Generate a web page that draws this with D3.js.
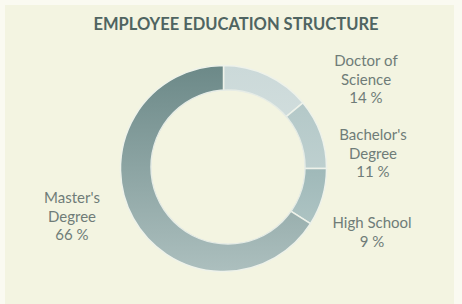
<!DOCTYPE html>
<html>
<head>
<meta charset="utf-8">
<script src="https://cdn.jsdelivr.net/npm/d3@7"></script>
<style>
  body { margin: 0; background: #fafaf1; }
  svg { display: block; }
  text { font-family: "Lato", "Open Sans", sans-serif; }
</style>
</head>
<body>
<svg width="462" height="304"></svg>
<script>
const svg = d3.select("svg"),
      width = +svg.attr("width"),
      height = +svg.attr("height");

// data, clockwise from 12 o'clock
const categories = ["Doctor of Science", "Bachelor's Degree", "High School", "Master's Degree"];
const shares = [14, 11, 9, 66];
const labelLines = [["Doctor of", "Science"], ["Bachelor's", "Degree"], ["High School"], ["Master's", "Degree"]];

// slice gradients (top colour, bottom colour)
const sliceColors = [
  ["#cbd9d9", "#dfe8e6"],
  ["#aec4c4", "#cddbda"],
  ["#86a6a7", "#b9cccb"],
  ["#6c8988", "#acbfbe"]
];

// card
svg.append("rect")
  .attr("x", 5).attr("y", 5)
  .attr("width", 449).attr("height", height - 5)
  .attr("fill", "#f3f4e1");

svg.append("text")
  .attr("x", 236).attr("y", 30)
  .attr("text-anchor", "middle")
  .attr("font-size", 16.5)
  .attr("font-weight", "bold")
  .attr("fill", "#4f6461")
  .text("EMPLOYEE EDUCATION STRUCTURE");

const cx = 223.5, cy = 168.5, outerR = 103;

const pie = d3.pie().sort(null).value(d => d)(shares);
const arc = d3.arc().innerRadius(0).outerRadius(outerR);

const defs = svg.append("defs");
sliceColors.forEach((c, i) => {
  const g = defs.append("linearGradient")
    .attr("id", "grad" + i)
    .attr("gradientUnits", "userSpaceOnUse")
    .attr("x1", 0).attr("y1", -outerR)
    .attr("x2", 0).attr("y2", outerR);
  g.append("stop").attr("offset", "0%").attr("stop-color", c[0]);
  g.append("stop").attr("offset", "100%").attr("stop-color", c[1]);
});

const ring = svg.append("g").attr("transform", `translate(${cx},${cy})`);

ring.selectAll("path")
  .data(pie)
  .enter()
  .append("path")
  .attr("d", arc)
  .attr("fill", (d, i) => `url(#grad${i})`)
  .attr("stroke", "#eef2ea")
  .attr("stroke-width", 1.5);

// hole (slightly off-centre like the original)
ring.append("circle")
  .attr("cx", 4.5).attr("cy", -1.5)
  .attr("r", 77)
  .attr("fill", "#f3f4e1")
  .attr("stroke", "#e6ece6")
  .attr("stroke-width", 1.5);

// labels
const labelPos = [[366, 66], [373, 140], [372, 228], [72, 203]];
const lineH = 18.5;

labelLines.forEach((lines, i) => {
  const t = svg.append("text")
    .attr("text-anchor", "middle")
    .attr("font-size", 15)
    .attr("fill", "#6f7c78");
  lines.concat([shares[i] + " %"]).forEach((s, j) => {
    t.append("tspan")
      .attr("x", labelPos[i][0])
      .attr("y", labelPos[i][1] + j * lineH)
      .text(s);
  });
});
</script>
</body>
</html>
